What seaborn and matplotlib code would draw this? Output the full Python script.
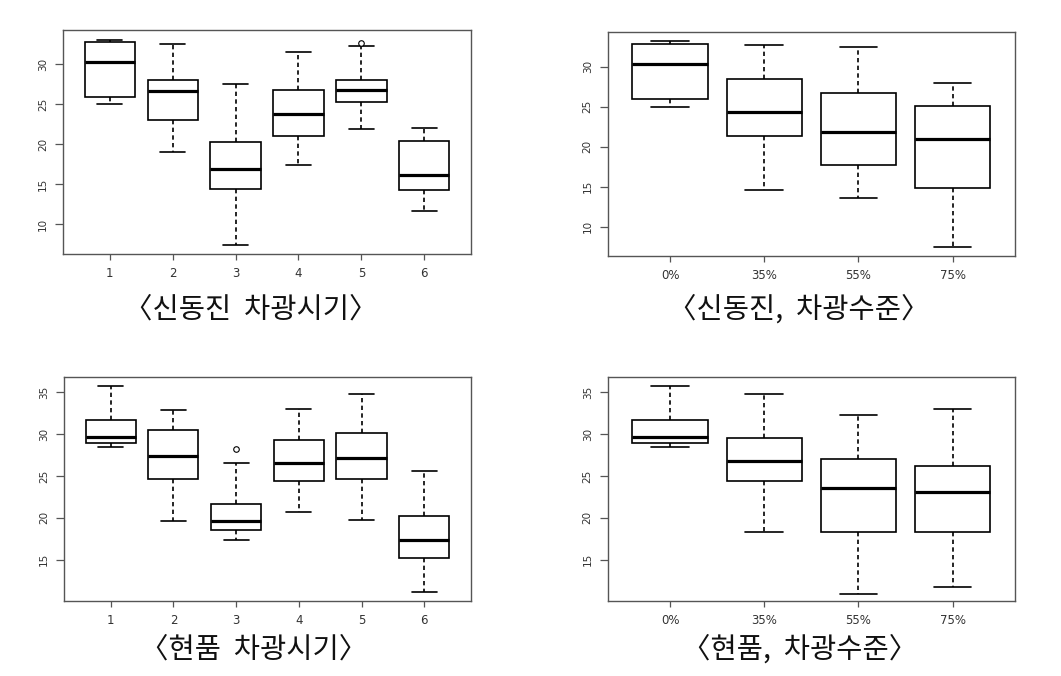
import numpy as np
import pandas as pd
import matplotlib
matplotlib.use("Agg")
import matplotlib.pyplot as plt
import seaborn as sns

# ---------------- data ----------------
# Panel 1: 신동진, 차광시기
p1_groups = ["1", "2", "3", "4", "5", "6"]
p1_low = [25.0, 19.1, 7.4, 17.4, 21.9, 11.7]
p1_q1 = [25.9, 23.0, 14.4, 21.1, 25.25, 14.25]
p1_med = [30.3, 26.7, 16.9, 23.8, 26.8, 16.2]
p1_q3 = [32.75, 28.0, 20.25, 26.75, 28.1, 20.4]
p1_high = [33.1, 32.5, 27.6, 31.5, 32.25, 22.1]
p1_out_groups = ["5"]
p1_out_vals = [32.7]

# Panel 2: 신동진, 차광수준
p2_groups = ["0%", "35%", "55%", "75%"]
p2_low = [25.0, 14.55, 13.6, 7.4]
p2_q1 = [25.9, 21.3, 17.7, 14.8]
p2_med = [30.35, 24.3, 21.8, 20.9]
p2_q3 = [32.8, 28.5, 26.65, 25.1]
p2_high = [33.15, 32.65, 32.5, 28.0]

# Panel 3: 현품, 차광시기
p3_groups = ["1", "2", "3", "4", "5", "6"]
p3_low = [28.45, 19.6, 17.3, 20.65, 19.8, 11.1]
p3_q1 = [28.9, 24.6, 18.5, 24.4, 24.7, 15.15]
p3_med = [29.7, 27.45, 19.6, 26.55, 27.1, 17.4]
p3_q3 = [31.65, 30.5, 21.7, 29.3, 30.1, 20.25]
p3_high = [35.75, 32.85, 26.55, 33.0, 34.8, 25.55]
p3_out_groups = ["3"]
p3_out_vals = [28.25]

# Panel 4: 현품, 차광수준
p4_groups = ["0%", "35%", "55%", "75%"]
p4_low = [28.45, 18.35, 10.95, 11.7]
p4_q1 = [28.9, 24.4, 18.35, 18.25]
p4_med = [29.7, 26.85, 23.6, 23.1]
p4_q3 = [31.65, 29.5, 27.0, 26.15]
p4_high = [35.75, 34.8, 32.3, 33.0]

captions = ["〈신동진  차광시기〉", "〈신동진,  차광수준〉",
            "〈현품  차광시기〉", "〈현품,  차광수준〉"]
y_ticks_top = [10, 15, 20, 25, 30]
y_ticks_bottom = [15, 20, 25, 30, 35]


def five_number_frame(groups, low, q1, med, q3, high):
    rows = []
    for g, a, b, c, d, e in zip(groups, low, q1, med, q3, high):
        for v in (a, b, c, d, e):
            rows.append({"group": g, "value": v})
    return pd.DataFrame(rows)


panels = [
    (five_number_frame(p1_groups, p1_low, p1_q1, p1_med, p1_q3, p1_high), p1_groups,
     pd.DataFrame({"group": p1_out_groups, "value": p1_out_vals}), y_ticks_top, (6.3, 34.3)),
    (five_number_frame(p2_groups, p2_low, p2_q1, p2_med, p2_q3, p2_high), p2_groups,
     None, y_ticks_top, (6.3, 34.3)),
    (five_number_frame(p3_groups, p3_low, p3_q1, p3_med, p3_q3, p3_high), p3_groups,
     pd.DataFrame({"group": p3_out_groups, "value": p3_out_vals}), y_ticks_bottom, (10.05, 36.8)),
    (five_number_frame(p4_groups, p4_low, p4_q1, p4_med, p4_q3, p4_high), p4_groups,
     None, y_ticks_bottom, (10.05, 36.8)),
]

# ---------------- style ----------------
sns.set_theme(style="ticks")
plt.rcParams["font.family"] = ["DejaVu Sans"]

fig = plt.figure(figsize=(10.61, 6.76), dpi=100)
fig.patch.set_facecolor("white")

axes_rects = [
    [0.0597, 0.6243, 0.3840, 0.3314],
    [0.5730, 0.6209, 0.3833, 0.3314],
    [0.0606, 0.1109, 0.3830, 0.3309],
    [0.5730, 0.1109, 0.3833, 0.3309],
]
caption_pos = [(0.2366, 0.5414), (0.7531, 0.5414), (0.2394, 0.0385), (0.7540, 0.0385)]

for i, (df, order, outl, yticks, ylim) in enumerate(panels):
    ax = fig.add_axes(axes_rects[i])
    sns.boxplot(
        data=df, x="group", y="value", order=order, ax=ax,
        whis=(0, 100), width=0.8, color="white", linecolor="black",
        linewidth=1.2, showfliers=False,
        whiskerprops={"linestyle": (0, (2.6, 2.0))},
        medianprops={"linewidth": 2.3},
    )
    if outl is not None:
        sns.stripplot(
            data=outl, x="group", y="value", order=order, ax=ax,
            jitter=False, color="white", edgecolor="black", linewidth=0.8,
            size=4, marker="o", zorder=5,
        )
    n = len(order)
    ax.set_xlim(-0.5 - 0.04 * n, n - 0.5 + 0.04 * n)
    ax.set_ylim(*ylim)
    ax.set_yticks(yticks)
    ax.set_yticklabels([str(t) for t in yticks], rotation=90, va="center")
    ax.set_xlabel("")
    ax.set_ylabel("")
    for s in ax.spines.values():
        s.set_visible(True)
        s.set_color("#555555")
        s.set_linewidth(1.0)
    ax.tick_params(axis="both", colors="#555555", labelcolor="#333333", width=0.9)
    ax.tick_params(axis="y", length=6, pad=5, labelsize=7.5)
    ax.tick_params(axis="x", length=4.5, pad=5, labelsize=8.5)
    ax.set_facecolor("white")
    fig.text(caption_pos[i][0], caption_pos[i][1], captions[i],
             ha="center", va="center", fontsize=20.5,
             family=["Noto Sans CJK KR", "DejaVu Sans"], color="#111111")

fig.savefig("out.png", dpi=100, facecolor="white")
